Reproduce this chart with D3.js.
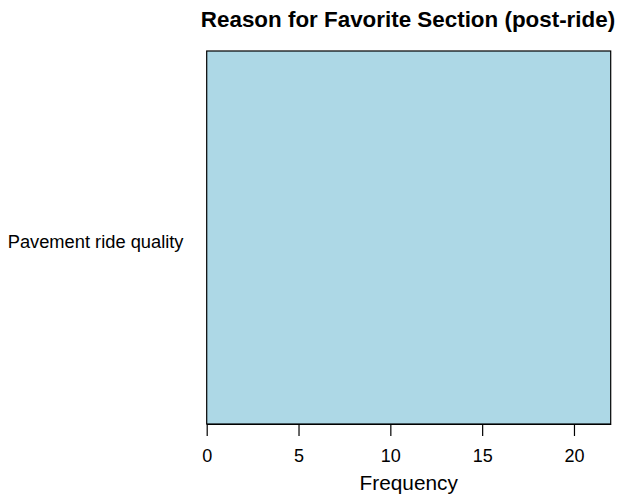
<!DOCTYPE html>
<html><head><meta charset="utf-8">
<script src="https://cdn.jsdelivr.net/npm/d3@7"></script>
<style>body{margin:0;background:#fff}svg{display:block}text{font-family:"Liberation Sans",Arial,sans-serif}</style>
</head><body>
<svg id="c" width="619" height="498"></svg>
<script>
const categories = ["Pavement ride quality"];
const values = [22];
const xTicks = [0, 5, 10, 15, 20];
const title = "Reason for Favorite Section (post-ride)";
const xLabel = "Frequency";

const svg = d3.select("#c");
const m = {left: 206.7, right: 610.7, top: 51, bottom: 424};
const x = d3.scaleLinear().domain([0, 22]).range([m.left, m.right]);
const y = d3.scaleBand().domain(categories).range([m.top, m.bottom]).padding(0);

svg.selectAll("rect.bar").data(values).enter().append("rect")
  .attr("x", x(0)).attr("y", (d,i) => y(categories[i]))
  .attr("width", d => x(d) - x(0)).attr("height", y.bandwidth())
  .attr("fill", "#add8e6").attr("stroke", "#000").attr("stroke-width", 1.2);

const ax = svg.append("g").attr("transform", `translate(0,${m.bottom})`)
  .call(d3.axisBottom(x).tickValues(xTicks).tickSize(12).tickPadding(0).tickSizeOuter(0));
ax.select(".domain").attr("stroke", "#000");
ax.selectAll("line").attr("stroke", "#000").attr("stroke-width", 1.2);
ax.selectAll("text").attr("font-size", 18).attr("fill", "#000").attr("dy", null)
  .attr("y", 38).attr("font-family", "Liberation Sans, Arial, sans-serif");

svg.selectAll("text.cat").data(categories).enter().append("text")
  .attr("x", 183.5).attr("y", d => y(d) + y.bandwidth()/2 + 10)
  .attr("text-anchor", "end").attr("font-size", 18.3).text(d => d);

svg.append("text").attr("x", (m.left + m.right)/2).attr("y", 490)
  .attr("text-anchor", "middle").attr("font-size", 20.8).text(xLabel);

svg.append("text").attr("x", 408).attr("y", 27.3)
  .attr("text-anchor", "middle").attr("font-size", 22.4).attr("font-weight", "bold").text(title);
</script>
</body></html>
